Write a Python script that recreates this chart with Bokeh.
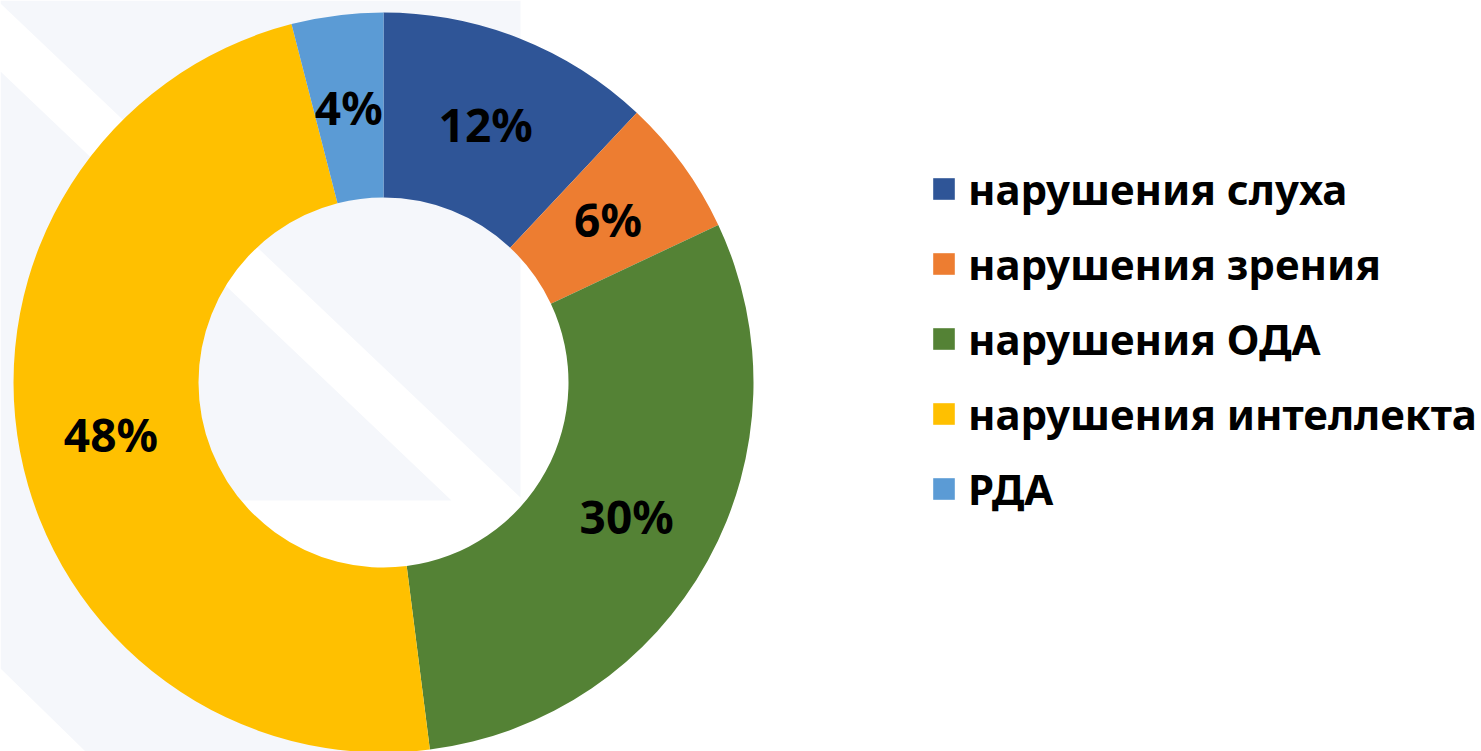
import numpy as np
from bokeh.plotting import figure
from bokeh.models import ColumnDataSource, Range1d, Legend, LegendItem
from bokeh.core.properties import value
from bokeh.embed import file_html
from bokeh.resources import INLINE

# ---- data ----
categories = ["нарушения слуха", "нарушения зрения", "нарушения ОДА",
              "нарушения интеллекта", "РДА"]
shares = [12, 6, 30, 48, 4]
colors = ["#2F5597", "#ED7D31", "#548235", "#FFC000", "#5B9BD5"]

W, H = 1481, 751
FONT = "Noto Sans"

# donut geometry (screen-like units, y up)
CX, CY = 383, H - 382
R_IN, R_OUT = 185, 370

total = float(sum(shares))
frac = np.array(shares) / total
cum_end = np.cumsum(frac)
cum_start = cum_end - frac
start = np.pi / 2 - 2 * np.pi * cum_start
end = np.pi / 2 - 2 * np.pi * cum_end
mid = (start + end) / 2
r_mid = (R_IN + R_OUT) / 2

src = ColumnDataSource(dict(
    cat=categories, share=shares, color=colors,
    start=start, end=end,
    lx=CX + r_mid * np.cos(mid), ly=CY + r_mid * np.sin(mid),
    lab=[f"{v}%" for v in shares],
))

p = figure(width=W, height=H, x_range=Range1d(0, W), y_range=Range1d(0, H),
           output_backend="svg", toolbar_location=None,
           x_axis_location=None, y_axis_location=None, min_border=0,
           outline_line_color=None, background_fill_color="white",
           border_fill_color="white")
p.grid.visible = False

# decorative slide background (pixel coords, y down)
BG_SHAPES = [
    [(0, 0), (520, 0), (520, 497), (0, 3)],
    [(0, 71), (451, 500), (235, 500), (360, 751), (85, 751), (0, 668)],
]
p.patches([[x for x, y in s] for s in BG_SHAPES],
          [[H - y for x, y in s] for s in BG_SHAPES],
          fill_color="#F5F7FB", line_color=None)

wedges = p.annular_wedge(x=CX, y=CY, inner_radius=R_IN, outer_radius=R_OUT,
                         start_angle="start", end_angle="end", direction="clock",
                         fill_color="color", line_color=None, source=src)

p.text(x="lx", y="ly", text="lab", source=src, text_align="center",
       text_baseline="middle", text_font=value(FONT), text_font_style="bold",
       text_font_size="46px", text_color="black")

legend = Legend(
    items=[LegendItem(label=c, renderers=[wedges], index=i)
           for i, c in enumerate(categories)],
    location=(930, 234), orientation="vertical",
    glyph_width=27, glyph_height=27, label_standoff=11,
    label_text_font=FONT, label_text_font_style="bold",
    label_text_font_size="42px", label_text_color="black",
    label_height=22, spacing=18, padding=0, margin=0,
    border_line_alpha=0, background_fill_alpha=0,
)
p.add_layout(legend, "center")

open("out.html", "w").write(file_html(p, INLINE))
